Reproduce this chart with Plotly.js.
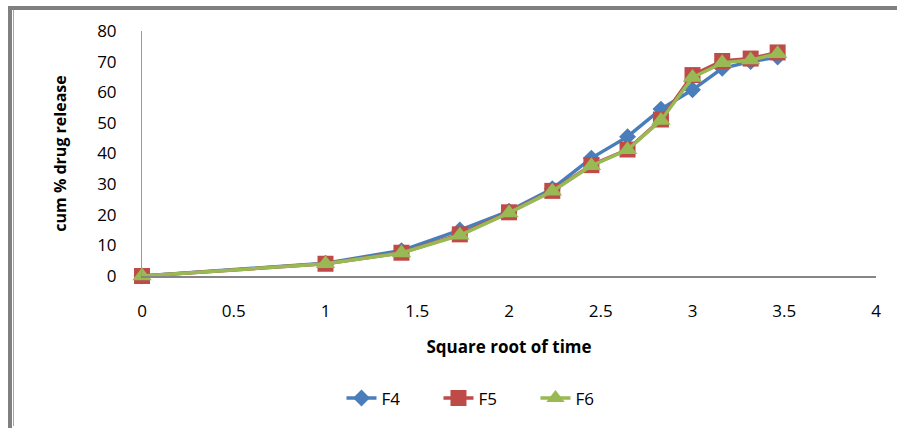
<!DOCTYPE html>
<html>
<head>
<meta charset="utf-8">
<script src="https://cdn.plot.ly/plotly-3.0.1.min.js"></script>
<style>
  html, body { margin: 0; padding: 0; background: #ffffff; }
  #wrap { position: relative; width: 897px; height: 428px; overflow: hidden; }
  #chart { position: absolute; left: 0; top: 0; width: 897px; height: 428px; }
  /* chart frame: thick grey top/left edges, thin bottom edge */
  #frame {
    position: absolute; left: 8px; top: 6px; width: 900px; height: 420px;
    border-top: 4px solid #808080; border-left: 4px solid #808080;
    border-bottom: 2px solid #808080; pointer-events: none;
  }
  #frame-inner {
    position: absolute; left: 13px; top: 10px; width: 1px; height: 416px;
    background: #a6a6a6; pointer-events: none;
  }
</style>
</head>
<body>
<div id="wrap">
  <div id="chart"></div>
  <div id="frame"></div>
  <div id="frame-inner"></div>
</div>
<script>
// Square root of sampling time
const sqrtTime = [0, 1, 1.414, 1.732, 2, 2.236, 2.449, 2.646, 2.828, 3, 3.162, 3.317, 3.464];

// Cumulative % drug release per formulation
const f4 = [0, 4.2, 8.3, 15.0, 21.2, 28.5, 38.5, 45.5, 54.5, 60.8, 67.8, 70.0, 71.5];
const f5 = [0, 4.0, 7.6, 13.6, 20.8, 27.8, 36.2, 41.3, 51.1, 65.6, 70.2, 71.0, 73.0];
const f6 = [0, 4.0, 7.5, 13.3, 20.6, 27.7, 36.0, 41.2, 50.8, 64.8, 69.6, 70.5, 72.6];

const xTicks = [0, 0.5, 1, 1.5, 2, 2.5, 3, 3.5, 4];
const yTicks = [0, 10, 20, 30, 40, 50, 60, 70, 80];

const FONT = '"Open Sans", "Noto Sans", sans-serif';

const traces = [
  {
    name: 'F4', x: sqrtTime, y: f4, type: 'scatter', mode: 'lines+markers', cliponaxis: false,
    line: { color: '#4a7ebb', width: 3.5 },
    marker: { symbol: 'diamond', size: 13, color: '#4a7ebb' }
  },
  {
    name: 'F5', x: sqrtTime, y: f5, type: 'scatter', mode: 'lines+markers', cliponaxis: false,
    line: { color: '#be4b48', width: 3.5 },
    marker: { symbol: 'square', size: 16, color: '#be4b48' }
  },
  {
    name: 'F6', x: sqrtTime, y: f6, type: 'scatter', mode: 'lines+markers', cliponaxis: false,
    line: { color: '#98b954', width: 3.5 },
    marker: { symbol: 'triangle-up', size: 17, color: '#98b954' }
  }
];

const layout = {
  width: 897, height: 428,
  margin: { l: 142, r: 21, t: 31, b: 152 },
  paper_bgcolor: '#ffffff', plot_bgcolor: '#ffffff',
  font: { family: FONT, size: 16, color: '#000000' },
  showlegend: true,
  legend: {
    orientation: 'h', x: 0.47, xanchor: 'center', y: -0.5, yanchor: 'middle',
    font: { family: FONT, size: 17, color: '#000000' },
    entrywidth: 52, entrywidthmode: 'pixels', tracegroupgap: 0
  },
  xaxis: {
    range: [0, 4], tickvals: xTicks, ticktext: xTicks.map(String),
    showgrid: false, zeroline: false,
    showline: true, linecolor: '#868686', linewidth: 1.5,
    ticks: 'outside', ticklen: 19, tickcolor: 'rgba(0,0,0,0)',
    tickfont: { family: FONT, size: 17, color: '#000000' },
    title: { text: '<b>Square root of time</b>', standoff: 20,
             font: { family: FONT, size: 17, color: '#000000' } }
  },
  yaxis: {
    range: [0, 80], tickvals: yTicks, ticktext: yTicks.map(String),
    showgrid: false, zeroline: false,
    showline: true, linecolor: '#9a9a9a', linewidth: 1,
    ticks: 'outside', ticklen: 21, tickcolor: 'rgba(0,0,0,0)',
    tickfont: { family: FONT, size: 17, color: '#000000' },
    title: { text: '<b>cum % drug release</b>', standoff: 26,
             font: { family: FONT, size: 16, color: '#000000' } }
  }
};

Plotly.newPlot('chart', traces, layout, { displayModeBar: false, staticPlot: true });
</script>
</body>
</html>
